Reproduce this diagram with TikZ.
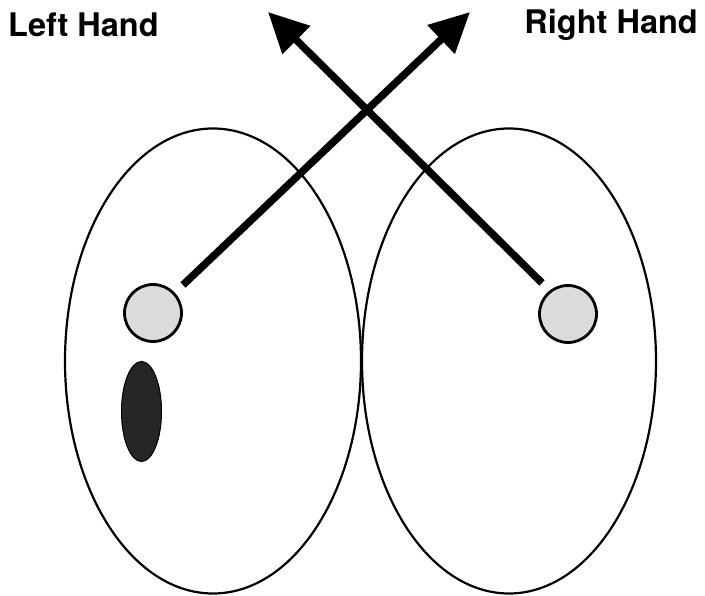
\documentclass[tikz,border=0pt]{standalone}
\usepackage{fontspec}
\setmainfont{TeX Gyre Heros}
\usetikzlibrary{arrows.meta,shapes.geometric}
\begin{document}
\begin{tikzpicture}[x=1pt,y=-1pt,
  lobe/.style={draw=black,line width=2.2pt},
  spot/.style={circle,draw=black,line width=2.8pt,fill=black!14,minimum size=57pt,inner sep=0pt},
  darkspot/.style={ellipse,draw=black,line width=1pt,fill=black!85,minimum width=40pt,minimum height=100pt,inner sep=0pt},
  bigarrow/.style={line width=7.5pt,-{Triangle[length=40pt,width=38pt]}},
  lab/.style={font=\fontsize{32.5}{36}\selectfont\bfseries,inner sep=0pt}
]
\useasboundingbox (0,0) rectangle (705,596);
\node[lobe,ellipse,minimum width=296pt,minimum height=465pt,inner sep=0pt] (L) at (213,361) {};
\node[lobe,ellipse,minimum width=294pt,minimum height=465pt,inner sep=0pt] (R) at (509,361) {};
\node[spot] (lc) at (153,313) {};
\node[spot] (rc) at (568,314) {};
\node[darkspot] (dk) at (141.5,411.5) {};
\coordinate (ls) at (183,285);
\coordinate (lt) at (470,12);
\coordinate (rs) at (542,283);
\coordinate (rt) at (268,12);
\draw[bigarrow] (ls) -- (lt);
\draw[bigarrow] (rs) -- (rt);
\node[lab,anchor=west] (lh) at (8,25) {Left Hand};
\node[lab,anchor=east] (rh) at (698,25) {Right Hand};
\end{tikzpicture}
\end{document}
